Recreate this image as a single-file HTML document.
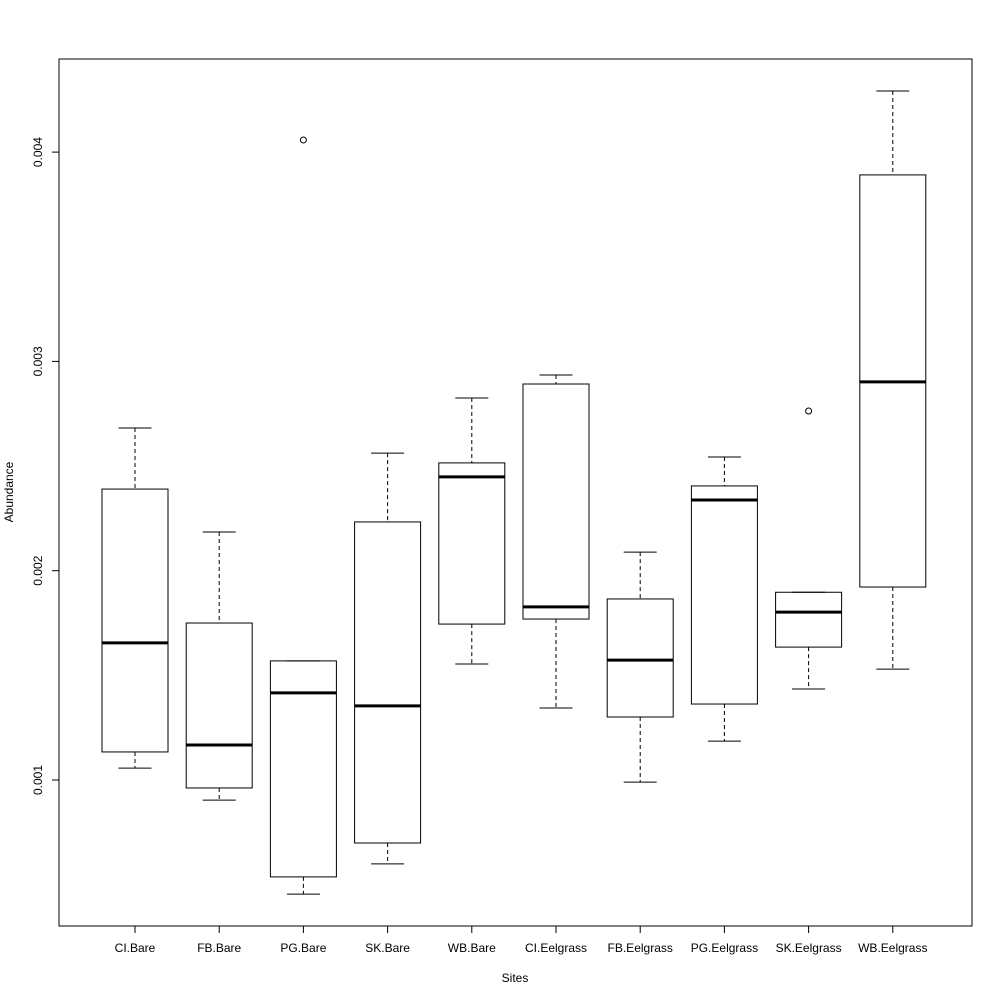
<!DOCTYPE html>
<html><head><meta charset="utf-8"><style>
html,body{margin:0;padding:0;background:#fff}
svg{display:block;font-family:"Liberation Sans",Arial,sans-serif}
</style></head><body>
<svg id="chart" width="1000" height="1000" viewBox="0 0 1000 1000" xmlns="http://www.w3.org/2000/svg"></svg>
<script>
const categories=["CI.Bare","FB.Bare","PG.Bare","SK.Bare","WB.Bare","CI.Eelgrass","FB.Eelgrass","PG.Eelgrass","SK.Eelgrass","WB.Eelgrass"];
const mins=[0.001057,0.000904,0.000455,0.000599,0.001554,0.001344,0.000990,0.001186,0.001435,0.001530];
const q1s=[0.001134,0.000962,0.000537,0.000699,0.001745,0.001769,0.001301,0.001363,0.001635,0.001922];
const medians=[0.001655,0.001167,0.001416,0.001354,0.002448,0.001827,0.001573,0.002338,0.001802,0.002902];
const q3s=[0.002390,0.001750,0.001569,0.002233,0.002515,0.002892,0.001865,0.002405,0.001897,0.003891];
const maxs=[0.002682,0.002185,0.001569,0.002562,0.002825,0.002935,0.002089,0.002543,0.001897,0.004292];
const outliers=[[],[],[0.004058],[],[],[],[],[],[0.002763],[]];
const yTicks=[0.001,0.002,0.003,0.004];
const yTickLabels=["0.001","0.002","0.003","0.004"];

const NS="http://www.w3.org/2000/svg";
const svg=document.getElementById("chart");
const L=59,R=972,T=59,B=926;
function yScale(v){return 780-(v-0.001)*209300;}
function xScale(i){return 135+i*84.2;}
function mk(tag,attrs,parent){const e=document.createElementNS(NS,tag);for(const k in attrs)e.setAttribute(k,attrs[k]);(parent||svg).appendChild(e);return e;}

const frame=mk("rect",{x:L,y:T,width:R-L,height:B-T,fill:"none",stroke:"#000","stroke-width":1});



const hw=33;
categories.forEach((c,i)=>{
  const g=mk("g",{});
  
  
  const x=xScale(i);
  mk("line",{x1:x,x2:x,y1:yScale(maxs[i]),y2:yScale(q3s[i]),stroke:"#000","stroke-dasharray":"4,3"},g);
  mk("line",{x1:x,x2:x,y1:yScale(q1s[i]),y2:yScale(mins[i]),stroke:"#000","stroke-dasharray":"4,3"},g);
  mk("line",{x1:x-16.5,x2:x+16.5,y1:yScale(maxs[i]),y2:yScale(maxs[i]),stroke:"#000"},g);
  mk("line",{x1:x-16.5,x2:x+16.5,y1:yScale(mins[i]),y2:yScale(mins[i]),stroke:"#000"},g);
  mk("rect",{x:x-hw,y:yScale(q3s[i]),width:2*hw,height:yScale(q1s[i])-yScale(q3s[i]),fill:"none",stroke:"#000"},g);
  mk("line",{x1:x-hw,x2:x+hw,y1:yScale(medians[i]),y2:yScale(medians[i]),stroke:"#000","stroke-width":3},g);
  outliers[i].forEach(o=>{
    const c2=mk("circle",{cx:x,cy:yScale(o),r:3,fill:"none",stroke:"#000"},g);
    
    
  });
  mk("line",{x1:x,x2:x,y1:B,y2:B+7,stroke:"#000"});
  const t=mk("text",{x:x,y:952,"text-anchor":"middle","font-size":12});
  t.textContent=c;
  
  
});
yTicks.forEach((v,i)=>{
  const y=yScale(v);
  mk("line",{x1:L-7,x2:L,y1:y,y2:y,stroke:"#000"});
  const t=mk("text",{x:0,y:0,"text-anchor":"middle","font-size":12,transform:`translate(42,${y}) rotate(-90)`});
  t.textContent=yTickLabels[i];
  
  
});
const xt=mk("text",{x:515,y:982,"text-anchor":"middle","font-size":12});
xt.textContent="Sites";


const yt=mk("text",{x:0,y:0,"text-anchor":"middle","font-size":12,transform:"translate(13,492) rotate(-90)"});
yt.textContent="Abundance";


</script>
</body></html>
